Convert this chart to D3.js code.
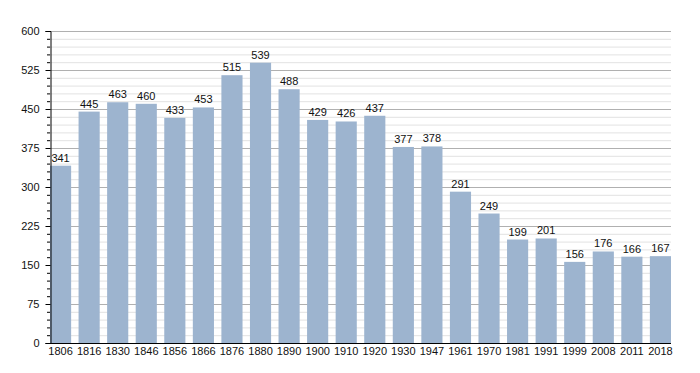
<!DOCTYPE html>
<html>
<head>
<meta charset="utf-8">
<script src="https://cdn.jsdelivr.net/npm/d3@7"></script>
<style>
  body { margin: 0; background: #fff; }
  text { font-family: "Liberation Sans", Arial, sans-serif; }
</style>
</head>
<body>
<script>
var years = ["1806","1816","1830","1846","1856","1866","1876","1880","1890","1900","1910","1920","1930","1947","1961","1970","1981","1991","1999","2008","2011","2018"];
var population = [341,445,463,460,433,453,515,539,488,429,426,437,377,378,291,249,199,201,156,176,166,167];
var majorTicks = [0,75,150,225,300,375,450,525,600];

var width = 700, height = 373;
var svg = d3.select("body").append("svg").attr("width", width).attr("height", height);

var x = d3.scaleBand().domain(years).range([50, 671]).paddingInner(0.26).paddingOuter(0);
var y = d3.scaleLinear().domain([0, 600]).range([343, 31]);

var minorTicks = d3.range(0, 601, 15);

// grid lines
svg.append("g").selectAll("line").data(minorTicks.filter(function(d){ return d % 75 != 0; }))
  .enter().append("line")
  .attr("x1", 50).attr("x2", 671)
  .attr("y1", function(d){ return y(d) + 0.5; }).attr("y2", function(d){ return y(d) + 0.5; })
  .attr("stroke", "#e2e2e2").attr("stroke-width", 1);

svg.append("g").selectAll("line").data(majorTicks.filter(function(d){ return d > 0; }))
  .enter().append("line")
  .attr("x1", 50).attr("x2", 671)
  .attr("y1", function(d){ return y(d) + 0.5; }).attr("y2", function(d){ return y(d) + 0.5; })
  .attr("stroke", "#b0b0b0").attr("stroke-width", 1);

// bars
svg.append("g").selectAll("rect").data(population)
  .enter().append("rect")
  .attr("x", function(d, i){ return x(years[i]); })
  .attr("y", function(d){ return y(d); })
  .attr("width", x.bandwidth())
  .attr("height", function(d){ return y(0) - y(d); })
  .attr("fill", "#9db4cf");

// value labels
svg.append("g").selectAll("text").data(population)
  .enter().append("text")
  .attr("x", function(d, i){ return x(years[i]) + x.bandwidth() / 2; })
  .attr("y", function(d){ return y(d) - 4; })
  .attr("text-anchor", "middle")
  .attr("font-size", 11)
  .attr("fill", "#111")
  .text(function(d){ return d; });

// y axis
var yAxis = d3.axisLeft(y).tickValues(majorTicks).tickSize(5).tickPadding(6);
var yg = svg.append("g").attr("transform", "translate(50.5,0)").call(yAxis);
yg.select(".domain").attr("stroke", "#000");
yg.selectAll(".tick line").attr("stroke", "#000");
yg.selectAll("text").attr("font-size", 11).attr("fill", "#111").style("font-family", "Liberation Sans, Arial, sans-serif");

svg.append("g").selectAll("line").data(minorTicks.filter(function(d){ return d % 75 != 0; }))
  .enter().append("line")
  .attr("x1", 47).attr("x2", 50)
  .attr("y1", function(d){ return y(d) + 0.5; }).attr("y2", function(d){ return y(d) + 0.5; })
  .attr("stroke", "#000");

// x axis
var xAxis = d3.axisBottom(x).tickSize(0).tickPadding(4);
var xg = svg.append("g").attr("transform", "translate(0,343.5)").call(xAxis);
xg.select(".domain").attr("stroke", "#000").attr("d", "M50,0H671");
xg.selectAll("text").attr("font-size", 11).attr("fill", "#111").style("font-family", "Liberation Sans, Arial, sans-serif");
</script>
</body>
</html>
